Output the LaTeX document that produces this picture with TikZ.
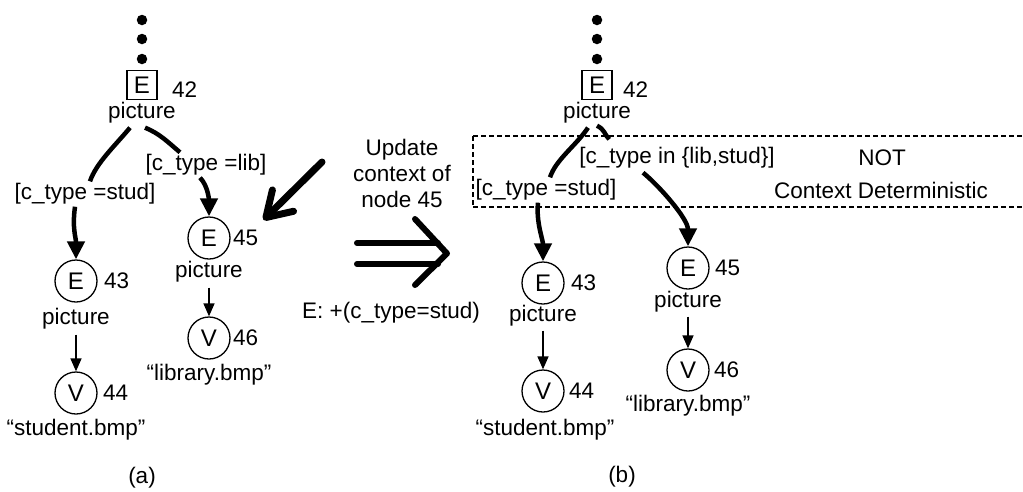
\documentclass[tikz,border=0pt]{standalone}
\usepackage{fontspec}
\setmainfont{Liberation Sans}
\usetikzlibrary{arrows.meta,calc}
\begin{document}
\begin{tikzpicture}[x=1pt,y=-1pt,
 every node/.style={font=\fontsize{22.5}{26}\selectfont, inner sep=0pt},
 num/.style={anchor=west},
 circ/.style={draw, circle, minimum size=42pt, line width=1.3pt, font=\fontsize{24}{26}\selectfont},
 ebox/.style={draw, rectangle, minimum width=30pt, minimum height=29pt, line width=1.3pt, font=\fontsize{24}{26}\selectfont},
 dotn/.style={fill, circle, minimum size=10.5pt},
 thk/.style={line width=4.5pt, -{Triangle[length=18pt,width=17pt]}},
 thkn/.style={line width=4.5pt},
 thinarr/.style={line width=1.5pt, -{Triangle[length=13pt,width=11pt]}},
 dashbox/.style={line width=1.2pt, dash pattern=on 5pt off 3pt},
 fat/.style={line width=6pt, line cap=round, line join=round},
]
\useasboundingbox (0,0) rectangle (1023,491);
% ---------------- (a)
\node[dotn] (d1a) at (142,20) {};
\node[dotn] (d2a) at (142,39) {};
\node[dotn] (d3a) at (142,59) {};
\node[ebox] (e42a) at (142,85) {E};
\node[num] (n42a) at (172,90) {42};
\node (pa) at (142,113) {picture};
\node (lsa) at (85,194) {[c\_type =stud]};
\node (lla) at (206,165) {[c\_type =lib]};
\node[circ] (e43a) at (76,281) {E};
\node[num] (n43a) at (104,281) {43};
\node (pa43) at (76,319) {picture};
\node[circ] (v44a) at (76,393) {V};
\node[num] (n44a) at (103,393) {44};
\node (sa) at (76,430) {“student.bmp”};
\node[circ] (e45a) at (209,238) {E};
\node[num] (n45a) at (233,238) {45};
\node (pa45) at (209,272) {picture};
\node[circ] (v46a) at (209,338) {V};
\node[num] (n46a) at (233,338) {46};
\node (la) at (209,375) {“library.bmp”};
\node (capa) at (142,478) {(a)};

\draw[thkn] ($(pa.south)+(-12,4)$) .. controls +(-15,18) and +(6,-18) .. ($(lsa.north)+(5,-2)$);
\draw[thk] ($(lsa.south)+(-10,2)$) .. controls +(-3,22) and +(0,-22) .. (e43a.north);
\draw[thkn] ($(pa.south)+(3,4)$) .. controls +(15,6) and +(-12,-10) .. ($(lla.north)+(-26,-2)$);
\draw[thk] ($(lla.south)+(-6,2)$) .. controls +(8,8) and +(0,-16) .. (e45a.north);
\draw[thinarr] ($(pa43.south)+(0,5)$) -- (v44a.north);
\draw[thinarr] ($(pa45.south)+(0,5)$) -- (v46a.north);

% big pointer
\coordinate (bigstart) at (322,162);
\draw[line width=7pt, line cap=round, -{Straight Barb[length=24pt,width=30pt,line cap=round,line join=round]}]
  (bigstart) -- ($(n45a.north east)+(5,-10)$);

% ---------------- middle
\node[align=center] (upd) at (402,173) {Update\\context of\\node 45};
\draw[fat] (357,243) -- (438,243);
\draw[fat] (357,264) -- (438,264);
\draw[fat] (415,219) -- (447,253.5) -- (415,285);
\node (eplus) at (391,313) {E: +(c\_type=stud)};

% ---------------- (b)
\draw[dashbox] (473,136) -- (1030,136);
\draw[dashbox] (473,207) -- (1030,207);
\draw[dashbox] (473,136) -- (473,207);
\node[dotn] (d1b) at (597,20) {};
\node[dotn] (d2b) at (597,39) {};
\node[dotn] (d3b) at (597,59) {};
\node[ebox] (e42b) at (597,85) {E};
\node[num] (n42b) at (623,90) {42};
\node (pb) at (597,113) {picture};
\node (linb) at (677,158) {[c\_type in \{lib,stud\}]};
\node (notb) at (882,158) {NOT};
\node (cdb) at (881,190) {Context Deterministic};
\node (lsb) at (546,190) {[c\_type =stud]};
\node[circ] (e43b) at (543,283) {E};
\node[num] (n43b) at (571,283) {43};
\node (pb43) at (543,316) {picture};
\node[circ] (v44b) at (543,391) {V};
\node[num] (n44b) at (569,391) {44};
\node (sb) at (545,430) {“student.bmp”};
\node[circ] (e45b) at (688,268) {E};
\node[num] (n45b) at (715,268) {45};
\node (pb45) at (688,302) {picture};
\node[circ] (v46b) at (688,370) {V};
\node[num] (n46b) at (714,370) {46};
\node (lb) at (688,406) {“library.bmp”};
\node (capb) at (622,477) {(b)};

\draw[thkn] ($(pb.south)+(-9,4)$) .. controls +(-12,18) and +(6,-18) .. ($(lsb.north)+(4,-2)$);
\draw[thk] ($(lsb.south)+(-8,2)$) .. controls +(-2,20) and +(0,-22) .. (e43b.north);
\draw[thkn] ($(pb.south)+(0,2)$) .. controls +(8,4) and +(-5,-5) .. ($(linb.north west)+(30,-8)$);
\draw[thk] ($(linb.south)+(-34,4)$) .. controls +(15,12) and +(0,-28) .. (e45b.north);
\draw[thinarr] ($(pb43.south)+(0,4)$) -- (v44b.north);
\draw[thinarr] ($(pb45.south)+(0,4)$) -- (v46b.north);
\end{tikzpicture}
\end{document}
